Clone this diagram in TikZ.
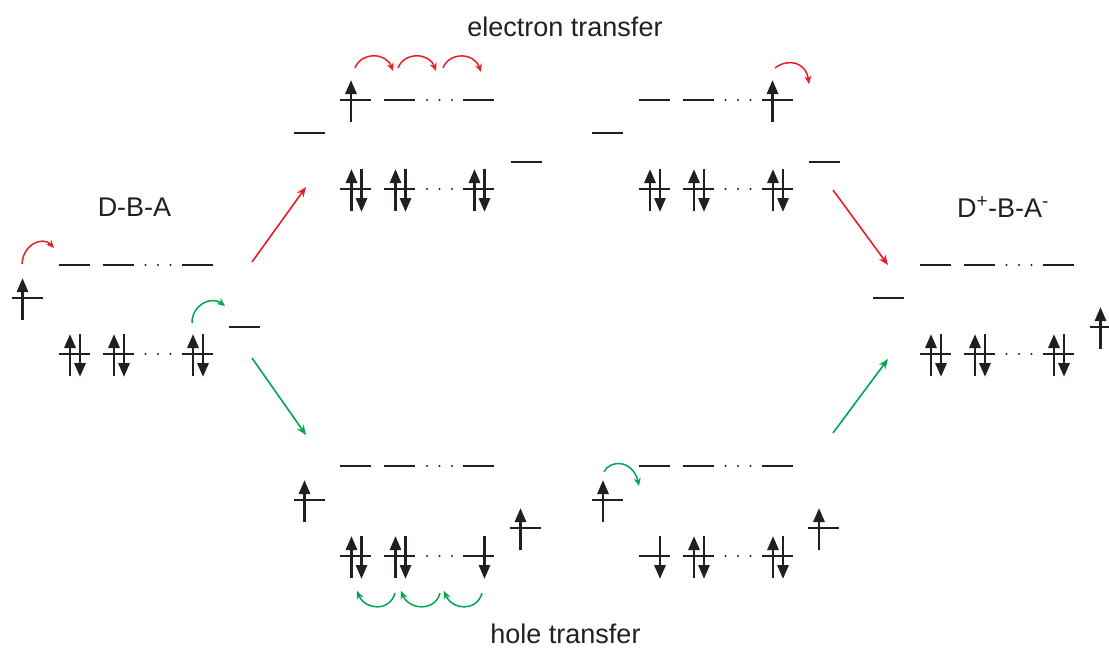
\documentclass[tikz,border=0pt]{standalone}
\usepackage{fontspec}
\setmainfont{Liberation Sans}
\usetikzlibrary{arrows.meta}
\definecolor{ink}{RGB}{35,31,32}
\definecolor{ered}{RGB}{237,28,36}
\definecolor{hgreen}{RGB}{0,166,81}
\tikzset{
  lvl/.style={draw=ink, line width=2pt},
  spin/.style={draw=ink, line width=2.9pt, -{Triangle[width=11pt,length=14pt]}},
  redc/.style={draw=ered, line width=1.5pt, -{Stealth[length=8pt,width=7pt]}},
  greenc/.style={draw=hgreen, line width=1.5pt, -{Stealth[length=8pt,width=7pt]}},
  bigred/.style={draw=ered, line width=1.6pt, -{Stealth[length=10pt,width=8pt]}},
  biggreen/.style={draw=hgreen, line width=1.6pt, -{Stealth[length=10pt,width=8pt]}},
  lab/.style={text=ink, font=\fontsize{27}{32}\selectfont, anchor=base, inner sep=0pt},
  lv/.pic={\draw[lvl] (-15.5,0) -- (15.5,0);},
  lvU/.pic={\draw[lvl] (-15.5,0) -- (15.5,0); \draw[spin] (-4.5,22) -- (-4.5,-20);},
  lvD/.pic={\draw[lvl] (-15.5,0) -- (15.5,0); \draw[spin] (6,-20) -- (6,23);},
  lvUD/.pic={\draw[lvl] (-15.5,0) -- (15.5,0); \draw[spin] (-4,22) -- (-4,-20); \draw[spin] (6,-20) -- (6,23);},
}
\newcommand\lrow[5]{%
  \pic at (#1,#2) {#3};
  \pic at ({#1+44},#2) {#4};
  \pic at ({#1+123},#2) {#5};
  \foreach \d in {71.5,84,96.5} \fill[ink] ({#1+\d},#2) circle (1.2pt);
}
\begin{document}
\begin{tikzpicture}[x=1pt,y=-1pt]
\useasboundingbox (0,0) rectangle (1109,648);

% labels
\node[lab] (lDBA) at (134.5,216) {D-B-A};
\node[lab] (lET) at (565,36) {electron transfer};
\node[lab] (lHT) at (565.5,643.5) {hole transfer};
\node[lab] (lDBAc) at (1003,217) {D\textsuperscript{+}-B-A\textsuperscript{-}};

% left group D-B-A
\lrow{74}{265}{lv}{lv}{lv}
\lrow{74}{354}{lvUD}{lvUD}{lvUD}
\pic at (27,298) {lvU};
\pic at (244.5,327) {lv};
\draw[redc] (22,264) .. controls (23,244) and (43,236) .. (54,248);
\draw[greenc] (192,323) .. controls (192,304) and (212,296) .. (225,306);

% upper middle
\lrow{355.5}{100}{lvU}{lv}{lv}
\lrow{355.5}{189}{lvUD}{lvUD}{lvUD}
\pic at (309,133) {lv};
\pic at (526,162) {lv};
\draw[redc] (355,68) .. controls (361,52) and (386,52) .. (393,71);
\draw[redc] (398,68) .. controls (404,52) and (429,52) .. (436,71);
\draw[redc] (443,68) .. controls (449,52) and (474,52) .. (481,72);

% upper right
\lrow{654}{100}{lv}{lv}{lvU}
\lrow{654}{189}{lvUD}{lvUD}{lvUD}
\pic at (607.5,133) {lv};
\pic at (824,162) {lv};
\draw[redc] (775,68) .. controls (788,58) and (806,62) .. (809,84);

% right group D+-B-A-
\lrow{935}{265}{lv}{lv}{lv}
\lrow{935}{354}{lvUD}{lvUD}{lvUD}
\pic at (888.5,298) {lv};
\pic at (1105,327) {lvU};

% bottom middle
\lrow{355.5}{466}{lv}{lv}{lv}
\lrow{355.5}{556}{lvUD}{lvUD}{lvD}
\pic at (309,500) {lvU};
\pic at (525,528) {lvU};
\draw[greenc] (395,593) .. controls (390,612) and (365,610) .. (357,591);
\draw[greenc] (440,593) .. controls (435,612) and (409,610) .. (401,591);
\draw[greenc] (482,593) .. controls (477,612) and (452,610) .. (444,591);

% bottom right
\lrow{654}{466}{lv}{lv}{lv}
\lrow{654}{556}{lvD}{lvUD}{lvUD}
\pic at (607.5,500) {lvU};
\pic at (823.5,528) {lvU};
\draw[greenc] (604,472) .. controls (610,459) and (633,460) .. (639,486);

% big arrows
\coordinate (r1s) at (252,262); \coordinate (r1e) at (306,187);
\coordinate (g1s) at (252,358); \coordinate (g1e) at (306,435);
\coordinate (r2s) at (833,190); \coordinate (r2e) at (888,265);
\coordinate (g2s) at (833,433); \coordinate (g2e) at (888,359);
\draw[bigred] (r1s) -- (r1e);
\draw[biggreen] (g1s) -- (g1e);
\draw[bigred] (r2s) -- (r2e);
\draw[biggreen] (g2s) -- (g2e);
\end{tikzpicture}
\end{document}
